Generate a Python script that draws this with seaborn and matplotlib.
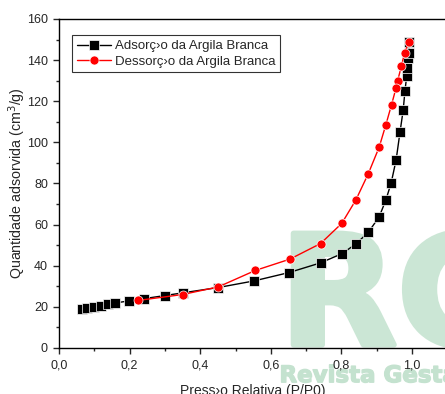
import pandas as pd
import seaborn as sns
import matplotlib.pyplot as plt
import matplotlib.patheffects as pe
from matplotlib.ticker import MultipleLocator, FuncFormatter

# Adsorption branch (black squares)
ads_p = [0.064, 0.078, 0.099, 0.119, 0.140, 0.159, 0.199, 0.241, 0.300, 0.350,
         0.451, 0.552, 0.652, 0.741, 0.802, 0.841, 0.876, 0.907, 0.926, 0.941,
         0.955, 0.966, 0.975, 0.980, 0.985, 0.987, 0.989, 0.991, 0.992]
ads_q = [18.8, 19.5, 20.1, 20.6, 21.3, 21.9, 22.9, 24.0, 25.5, 26.8,
         29.4, 32.6, 36.7, 41.4, 45.9, 50.6, 56.2, 63.8, 72.0, 80.3,
         91.5, 105.0, 115.7, 125.0, 132.3, 136.0, 141.1, 143.3, 149.0]

# Desorption branch (red circles)
des_p = [0.992, 0.979, 0.970, 0.959, 0.955, 0.942, 0.926, 0.907, 0.876, 0.841,
         0.801, 0.741, 0.654, 0.556, 0.451, 0.350, 0.223]
des_q = [149.0, 143.6, 137.1, 129.8, 126.6, 118.3, 108.6, 97.7, 84.7, 72.0,
         60.6, 50.8, 43.2, 37.7, 29.7, 26.0, 23.1]

lab_ads = "Adsorç›o da Argila Branca"
lab_des = "Dessorç›o da Argila Branca"

df = pd.concat([
    pd.DataFrame({"p": ads_p, "q": ads_q, "serie": lab_ads}),
    pd.DataFrame({"p": des_p, "q": des_q, "serie": lab_des}),
])

sns.set_style("ticks")
plt.rcParams['font.family'] = ['Liberation Sans', 'DejaVu Sans']

fig = plt.figure(figsize=(4.45, 3.94), dpi=100)
ax = fig.add_axes([0.1326, 0.1168, 0.8726, 0.835])
ax.set_facecolor("none")
ax.set_zorder(2)

# watermark (behind the axes)
wm = "#cbe6d5"
fig.text(0.628, 0.125, "RG", fontsize=110, fontweight="bold", family="DejaVu Sans",
         color=wm, zorder=0, path_effects=[pe.withStroke(linewidth=4, foreground=wm)])
fig.text(0.628, 0.03, "Revista Gestão", fontsize=16.5, fontweight="bold",
         family="DejaVu Sans", color="#c4e2cf", zorder=0,
         path_effects=[pe.withStroke(linewidth=1, foreground="#c4e2cf")])

sns.lineplot(ax=ax, data=df, x="p", y="q", hue="serie", style="serie",
             palette={lab_ads: "black", lab_des: "red"},
             markers={lab_ads: "s", lab_des: "o"}, dashes=False,
             sort=False, estimator=None, linewidth=1, markersize=6.5,
             markeredgewidth=0.5, zorder=3)

ax.set_xlim(0, 1.1)
ax.set_ylim(0, 160)
ax.xaxis.set_major_locator(MultipleLocator(0.2))
ax.xaxis.set_minor_locator(MultipleLocator(0.1))
ax.yaxis.set_major_locator(MultipleLocator(20))
ax.yaxis.set_minor_locator(MultipleLocator(10))
ax.xaxis.set_major_formatter(FuncFormatter(lambda v, pos: f"{v:.1f}".replace(".", ",")))
ax.tick_params(axis="both", which="major", length=4.5, width=1, labelsize=9, direction="out")
ax.tick_params(axis="both", which="minor", length=2.5, width=1, direction="out")
for s in ax.spines.values():
    s.set_linewidth(1)
    s.set_color("black")

ax.set_xlabel("Press›o Relativa (P/P0)", fontsize=10, labelpad=9)
ax.set_ylabel("Quantidade adsorvida (cm$^3$/g)", fontsize=10.3, labelpad=-1)

leg = ax.legend(loc="upper left", bbox_to_anchor=(0.034, 0.95), fontsize=9.5,
                frameon=True, fancybox=False, edgecolor="black", handlelength=2.6,
                borderpad=0.35, labelspacing=0.25, handletextpad=0.3, borderaxespad=0)
leg.get_frame().set_linewidth(0.8)
leg.set_title(None)

fig.savefig("out.png", dpi=100)
